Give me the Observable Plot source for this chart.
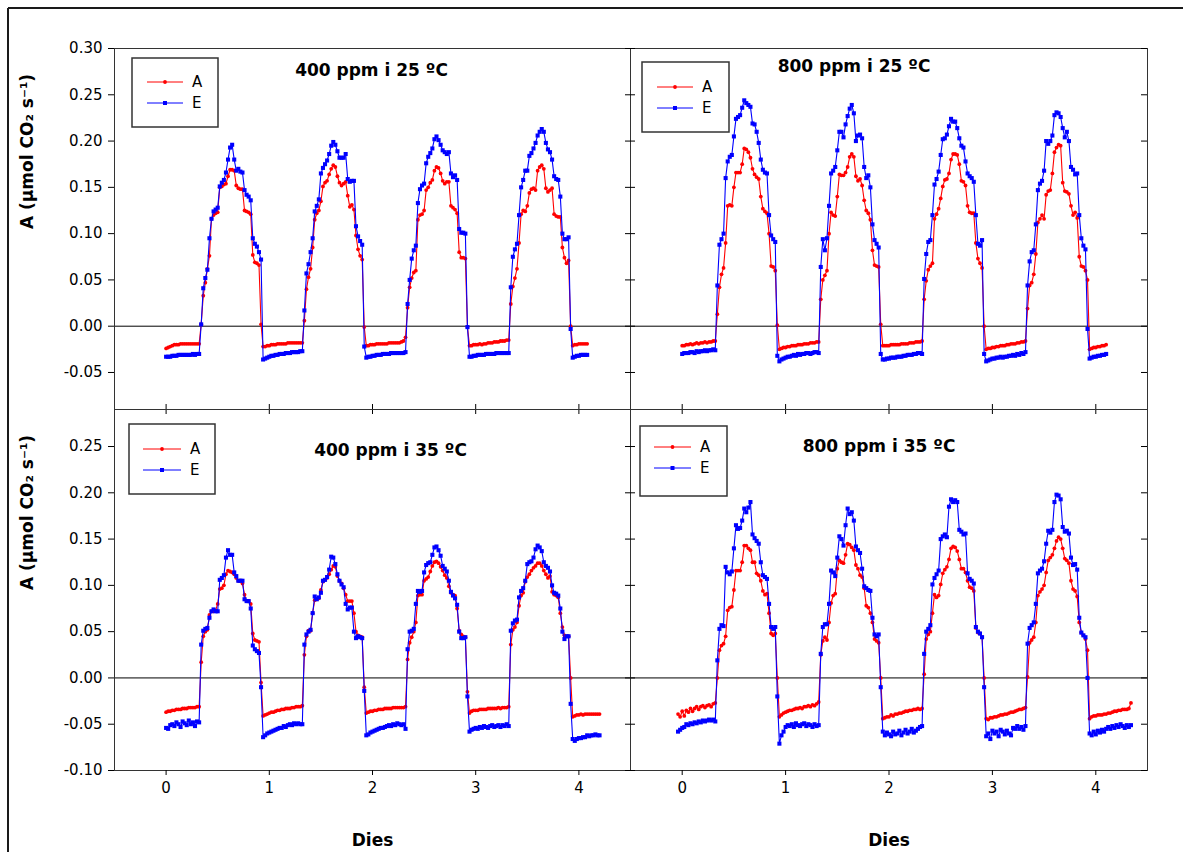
<!DOCTYPE html>
<html><head><meta charset="utf-8">
<script src="https://cdn.jsdelivr.net/npm/d3@7"></script>
<script src="https://cdn.jsdelivr.net/npm/@observablehq/plot@0.6"></script>
<style>
html,body{margin:0;padding:0;background:#fff;}
#chart{position:relative;width:1183px;height:852px;overflow:hidden;font-family:"DejaVu Sans",sans-serif;}
#chart svg{position:absolute;left:0;top:0;overflow:visible;max-width:none;}
</style></head><body><div id="chart"></div>
<script>
// ---- data (days sampled every 0.02 d, values in µmol CO2 s-1) ----
const step = 0.02;
const xTicks = [0, 1, 2, 3, 4];
const yTicksTop = [-0.05, 0, 0.05, 0.10, 0.15, 0.20, 0.25, 0.30];
const yTicksBottom = [-0.10, -0.05, 0, 0.05, 0.10, 0.15, 0.20, 0.25];
const titles = ["400 ppm i 25 ºC", "800 ppm i 25 ºC", "400 ppm i 35 ºC", "800 ppm i 35 ºC"];
const seriesNames = ["A", "E"];
const yTitle = "A (µmol CO₂ s⁻¹)";
const xTitle = "Dies";

// 400 ppm, 25 ºC
const ul_start = 0;
const ul_A = [
-0.024,-0.023,-0.022,-0.021,-0.020,-0.020,-0.020,-0.019,-0.019,-0.019,-0.019,-0.019,-0.019,-0.019,-0.019,-0.019,-0.019,
0.002,0.033,0.047,0.062,0.076,0.116,0.120,0.122,0.123,0.150,0.151,0.153,0.154,0.162,0.169,0.169,0.168,0.152,0.149,0.148,0.148,0.125,0.124,0.123,0.121,0.077,0.069,0.068,0.066,0.002,
-0.022,-0.022,-0.021,-0.021,-0.020,-0.020,-0.020,-0.019,-0.019,-0.019,-0.019,-0.019,-0.018,-0.018,-0.018,-0.018,-0.018,-0.018,-0.018,-0.018,
0.006,0.040,0.053,0.062,0.085,0.115,0.122,0.125,0.135,0.151,0.155,0.157,0.164,0.170,0.174,0.172,0.162,0.155,0.152,0.154,0.156,0.141,0.129,0.131,0.126,0.098,0.083,0.076,0.072,-0.001,
-0.021,-0.021,-0.020,-0.020,-0.020,-0.019,-0.019,-0.019,-0.019,-0.019,-0.019,-0.018,-0.018,-0.018,-0.018,-0.018,-0.018,-0.017,-0.016,-0.012,
0.020,0.042,0.052,0.058,0.060,0.115,0.120,0.121,0.125,0.147,0.150,0.155,0.158,0.168,0.172,0.171,0.165,0.157,0.154,0.156,0.156,0.130,0.128,0.126,0.122,0.080,0.074,0.074,0.073,-0.001,
-0.021,-0.021,-0.020,-0.020,-0.020,-0.019,-0.020,-0.019,-0.019,-0.018,-0.018,-0.018,-0.017,-0.017,-0.017,-0.016,-0.016,-0.016,-0.015,-0.015,
0.024,0.043,0.052,0.062,0.090,0.121,0.125,0.124,0.130,0.144,0.148,0.149,0.147,0.168,0.172,0.174,0.170,0.149,0.145,0.147,0.149,0.121,0.119,0.118,0.118,0.085,0.074,0.068,0.071,0.000,
-0.021,-0.020,-0.020,-0.019,-0.019,-0.019,-0.019,-0.019
];
const ul_E = [
-0.033,-0.033,-0.033,-0.032,-0.032,-0.032,-0.031,-0.031,-0.031,-0.031,-0.031,-0.031,-0.031,-0.030,-0.031,-0.030,-0.030,
0.002,0.041,0.052,0.061,0.095,0.116,0.124,0.126,0.128,0.151,0.155,0.158,0.166,0.180,0.193,0.196,0.180,0.168,0.170,0.167,0.166,0.147,0.142,0.140,0.136,0.095,0.089,0.086,0.080,0.072,
-0.036,-0.035,-0.034,-0.033,-0.032,-0.032,-0.031,-0.031,-0.030,-0.030,-0.030,-0.029,-0.029,-0.029,-0.028,-0.028,-0.028,-0.028,-0.027,-0.027,
0.017,0.057,0.067,0.080,0.095,0.124,0.130,0.137,0.165,0.171,0.175,0.179,0.186,0.195,0.199,0.196,0.189,0.182,0.182,0.182,0.186,0.159,0.156,0.157,0.157,0.108,0.097,0.092,0.088,-0.022,
-0.034,-0.033,-0.033,-0.032,-0.032,-0.031,-0.031,-0.031,-0.030,-0.030,-0.030,-0.030,-0.029,-0.029,-0.029,-0.029,-0.029,-0.029,-0.029,-0.028,
0.024,0.050,0.073,0.082,0.087,0.133,0.148,0.152,0.154,0.176,0.183,0.187,0.192,0.202,0.205,0.201,0.196,0.190,0.188,0.186,0.188,0.165,0.161,0.163,0.158,0.105,0.101,0.101,0.100,-0.001,
-0.033,-0.033,-0.032,-0.032,-0.031,-0.031,-0.031,-0.031,-0.030,-0.030,-0.030,-0.030,-0.030,-0.029,-0.029,-0.029,-0.029,-0.029,-0.029,-0.029,
0.042,0.075,0.083,0.089,0.120,0.150,0.158,0.168,0.168,0.184,0.187,0.192,0.198,0.206,0.210,0.213,0.210,0.198,0.191,0.188,0.180,0.162,0.159,0.158,0.140,0.100,0.094,0.094,0.096,-0.003,
-0.034,-0.033,-0.032,-0.032,-0.031,-0.031,-0.031,-0.031
];

// 800 ppm, 25 ºC
const ur_start = 0;
const ur_A = [
-0.021,-0.021,-0.020,-0.020,-0.019,-0.020,-0.019,-0.018,-0.019,-0.018,-0.018,-0.017,-0.018,-0.017,-0.017,-0.016,-0.016,
0.013,0.042,0.056,0.063,0.090,0.130,0.131,0.130,0.150,0.166,0.166,0.166,0.175,0.192,0.191,0.188,0.182,0.170,0.164,0.161,0.159,0.140,0.127,0.124,0.122,0.100,0.065,0.064,0.060,0.001,
-0.025,-0.024,-0.023,-0.023,-0.022,-0.022,-0.021,-0.021,-0.021,-0.020,-0.020,-0.020,-0.019,-0.019,-0.019,-0.018,-0.018,-0.018,-0.017,-0.017,
0.029,0.050,0.055,0.060,0.100,0.123,0.120,0.119,0.140,0.164,0.163,0.163,0.166,0.172,0.183,0.186,0.183,0.162,0.157,0.159,0.152,0.136,0.125,0.122,0.115,0.082,0.066,0.065,0.064,0.002,
-0.021,-0.021,-0.021,-0.021,-0.020,-0.020,-0.020,-0.020,-0.020,-0.019,-0.019,-0.019,-0.019,-0.018,-0.018,-0.018,-0.017,-0.017,-0.017,-0.016,
0.029,0.049,0.061,0.065,0.068,0.116,0.121,0.127,0.138,0.151,0.158,0.159,0.165,0.180,0.186,0.186,0.185,0.175,0.157,0.156,0.152,0.130,0.123,0.122,0.122,0.090,0.073,0.068,0.063,0.000,
-0.025,-0.024,-0.024,-0.023,-0.023,-0.022,-0.022,-0.021,-0.021,-0.021,-0.020,-0.020,-0.019,-0.019,-0.019,-0.018,-0.018,-0.017,-0.017,-0.016,
0.019,0.044,0.047,0.056,0.078,0.112,0.116,0.120,0.116,0.142,0.146,0.147,0.165,0.188,0.193,0.196,0.195,0.155,0.146,0.145,0.143,0.130,0.120,0.123,0.117,0.075,0.065,0.064,0.060,0.050,
-0.025,-0.024,-0.023,-0.023,-0.022,-0.022,-0.021,-0.021,-0.020
];
const ur_E = [
-0.030,-0.029,-0.029,-0.029,-0.028,-0.028,-0.029,-0.027,-0.028,-0.027,-0.027,-0.026,-0.027,-0.026,-0.026,-0.025,-0.026,
0.044,0.088,0.094,0.100,0.160,0.178,0.183,0.185,0.205,0.224,0.226,0.228,0.236,0.244,0.241,0.239,0.237,0.219,0.218,0.210,0.198,0.180,0.169,0.166,0.165,0.120,0.098,0.094,0.091,-0.032,
-0.038,-0.036,-0.035,-0.034,-0.033,-0.033,-0.032,-0.031,-0.032,-0.030,-0.031,-0.030,-0.030,-0.029,-0.029,-0.030,-0.029,-0.028,-0.028,-0.029,
0.064,0.094,0.082,0.095,0.130,0.165,0.168,0.172,0.190,0.210,0.210,0.204,0.218,0.227,0.235,0.239,0.230,0.200,0.206,0.207,0.203,0.172,0.160,0.163,0.150,0.110,0.093,0.089,0.085,-0.030,
-0.036,-0.036,-0.035,-0.035,-0.034,-0.034,-0.034,-0.033,-0.033,-0.033,-0.032,-0.032,-0.031,-0.031,-0.031,-0.030,-0.030,-0.029,-0.029,-0.030,
0.051,0.078,0.091,0.093,0.120,0.153,0.159,0.167,0.185,0.202,0.203,0.207,0.216,0.224,0.221,0.221,0.214,0.203,0.195,0.193,0.178,0.165,0.162,0.160,0.156,0.120,0.089,0.087,0.093,-0.030,
-0.038,-0.037,-0.036,-0.035,-0.035,-0.034,-0.034,-0.033,-0.034,-0.033,-0.033,-0.032,-0.032,-0.031,-0.032,-0.030,-0.031,-0.029,-0.030,-0.028,
0.044,0.070,0.080,0.082,0.110,0.147,0.154,0.157,0.168,0.200,0.197,0.200,0.206,0.228,0.231,0.230,0.226,0.214,0.204,0.210,0.200,0.172,0.169,0.164,0.165,0.120,0.095,0.087,0.083,-0.003,
-0.035,-0.034,-0.033,-0.033,-0.032,-0.032,-0.031,-0.031,-0.030
];

// 400 ppm, 35 ºC
const ll_start = 0;
const ll_A = [
-0.037,-0.036,-0.036,-0.035,-0.035,-0.034,-0.034,-0.034,-0.033,-0.033,-0.033,-0.032,-0.032,-0.032,-0.032,-0.031,-0.031,
0.017,0.045,0.050,0.052,0.068,0.072,0.072,0.073,0.080,0.096,0.097,0.100,0.112,0.116,0.115,0.114,0.112,0.108,0.105,0.105,0.102,0.090,0.083,0.083,0.080,0.048,0.041,0.040,0.039,-0.005,
-0.041,-0.040,-0.039,-0.038,-0.037,-0.037,-0.036,-0.035,-0.035,-0.034,-0.034,-0.033,-0.033,-0.033,-0.032,-0.032,-0.031,-0.031,-0.031,-0.030,
0.025,0.045,0.051,0.051,0.070,0.084,0.085,0.086,0.095,0.104,0.106,0.108,0.112,0.117,0.121,0.120,0.110,0.105,0.102,0.097,0.090,0.083,0.083,0.083,0.070,0.050,0.046,0.045,0.044,-0.010,
-0.038,-0.037,-0.036,-0.036,-0.035,-0.035,-0.034,-0.034,-0.034,-0.033,-0.033,-0.033,-0.033,-0.032,-0.032,-0.032,-0.032,-0.032,-0.032,-0.031,
0.020,0.038,0.044,0.050,0.060,0.089,0.090,0.090,0.105,0.107,0.109,0.115,0.121,0.125,0.126,0.124,0.120,0.116,0.111,0.108,0.099,0.092,0.090,0.089,0.075,0.051,0.047,0.045,0.044,-0.015,
-0.038,-0.036,-0.035,-0.035,-0.035,-0.034,-0.034,-0.034,-0.034,-0.033,-0.033,-0.033,-0.033,-0.033,-0.032,-0.033,-0.032,-0.032,-0.032,-0.031,
0.036,0.052,0.055,0.060,0.078,0.089,0.092,0.104,0.109,0.112,0.116,0.119,0.121,0.124,0.124,0.121,0.116,0.112,0.108,0.110,0.093,0.090,0.089,0.087,0.070,0.055,0.046,0.045,0.045,0.000,
-0.042,-0.041,-0.040,-0.040,-0.039,-0.040,-0.039,-0.039,-0.039,-0.039,-0.039,-0.039,-0.039,-0.039
];
const ll_E = [
-0.054,-0.055,-0.051,-0.050,-0.052,-0.048,-0.050,-0.053,-0.047,-0.049,-0.051,-0.046,-0.050,-0.048,-0.052,-0.047,-0.048,
0.036,0.051,0.053,0.054,0.065,0.072,0.074,0.072,0.072,0.106,0.108,0.111,0.130,0.138,0.133,0.133,0.114,0.110,0.105,0.105,0.105,0.085,0.083,0.083,0.075,0.035,0.031,0.029,0.027,-0.010,
-0.064,-0.062,-0.060,-0.059,-0.058,-0.057,-0.056,-0.055,-0.054,-0.054,-0.052,-0.053,-0.051,-0.050,-0.051,-0.049,-0.050,-0.049,-0.050,-0.050,
0.036,0.047,0.050,0.052,0.070,0.088,0.085,0.087,0.092,0.105,0.106,0.109,0.117,0.131,0.130,0.123,0.112,0.105,0.101,0.098,0.080,0.074,0.076,0.076,0.050,0.043,0.045,0.044,0.043,-0.014,
-0.062,-0.061,-0.059,-0.058,-0.057,-0.056,-0.055,-0.054,-0.054,-0.053,-0.052,-0.051,-0.052,-0.050,-0.051,-0.049,-0.050,-0.051,-0.050,-0.055,
0.031,0.050,0.051,0.053,0.080,0.094,0.093,0.094,0.114,0.122,0.124,0.125,0.133,0.141,0.142,0.138,0.132,0.121,0.118,0.115,0.105,0.093,0.089,0.086,0.079,0.050,0.043,0.043,0.044,-0.020,
-0.058,-0.056,-0.055,-0.054,-0.055,-0.053,-0.054,-0.052,-0.053,-0.054,-0.052,-0.051,-0.053,-0.052,-0.051,-0.053,-0.051,-0.052,-0.050,-0.052,
0.051,0.059,0.062,0.063,0.087,0.094,0.097,0.105,0.123,0.125,0.126,0.130,0.139,0.143,0.141,0.137,0.125,0.121,0.119,0.115,0.100,0.092,0.091,0.089,0.075,0.050,0.042,0.045,0.045,-0.028,
-0.066,-0.068,-0.066,-0.065,-0.065,-0.064,-0.064,-0.062,-0.063,-0.062,-0.062,-0.061,-0.062,-0.062
];

// 800 ppm, 35 ºC
const lr_start = -0.04;
const lr_A = [
-0.039,-0.042,-0.036,-0.041,-0.035,-0.037,-0.033,-0.036,-0.033,-0.031,-0.034,-0.031,-0.030,-0.032,-0.030,-0.029,-0.031,-0.028,-0.027,
0.000,0.030,0.035,0.037,0.045,0.073,0.076,0.077,0.095,0.116,0.116,0.116,0.125,0.143,0.143,0.140,0.138,0.125,0.125,0.113,0.111,0.105,0.094,0.090,0.091,0.070,0.048,0.046,0.048,0.000,
-0.042,-0.040,-0.038,-0.037,-0.036,-0.035,-0.035,-0.034,-0.033,-0.033,-0.032,-0.033,-0.031,-0.031,-0.030,-0.031,-0.029,-0.030,-0.028,-0.026,
0.025,0.040,0.044,0.041,0.060,0.081,0.089,0.091,0.118,0.127,0.125,0.124,0.133,0.145,0.144,0.141,0.138,0.122,0.118,0.111,0.109,0.097,0.078,0.076,0.070,0.060,0.042,0.040,0.038,0.000,
-0.044,-0.043,-0.042,-0.042,-0.040,-0.041,-0.039,-0.039,-0.038,-0.038,-0.037,-0.036,-0.036,-0.035,-0.035,-0.034,-0.034,-0.033,-0.034,-0.033,
0.004,0.042,0.047,0.050,0.070,0.090,0.087,0.089,0.101,0.113,0.117,0.120,0.128,0.140,0.142,0.141,0.137,0.128,0.118,0.118,0.114,0.105,0.098,0.097,0.094,0.054,0.049,0.048,0.044,0.000,
-0.044,-0.045,-0.043,-0.043,-0.042,-0.042,-0.041,-0.040,-0.040,-0.039,-0.039,-0.038,-0.037,-0.037,-0.036,-0.035,-0.034,-0.034,-0.033,-0.032,
0.001,0.038,0.041,0.044,0.060,0.089,0.093,0.096,0.100,0.114,0.127,0.130,0.133,0.140,0.148,0.152,0.150,0.140,0.129,0.127,0.124,0.105,0.096,0.094,0.088,0.060,0.049,0.046,0.042,0.030,
-0.044,-0.042,-0.041,-0.041,-0.040,-0.040,-0.040,-0.039,-0.039,-0.038,-0.038,-0.037,-0.036,-0.036,-0.035,-0.035,-0.034,-0.034,-0.034,-0.033,-0.027
];
const lr_E = [
-0.058,-0.056,-0.054,-0.053,-0.050,-0.051,-0.049,-0.050,-0.048,-0.049,-0.047,-0.048,-0.046,-0.047,-0.046,-0.045,-0.046,-0.045,-0.047,
0.019,0.053,0.057,0.056,0.120,0.114,0.112,0.115,0.140,0.165,0.161,0.162,0.170,0.183,0.179,0.184,0.190,0.155,0.151,0.148,0.145,0.125,0.111,0.109,0.107,0.080,0.055,0.053,0.055,-0.020,
-0.071,-0.062,-0.058,-0.053,-0.051,-0.052,-0.050,-0.053,-0.049,-0.051,-0.052,-0.050,-0.049,-0.052,-0.050,-0.051,-0.053,-0.050,-0.052,-0.051,
0.026,0.055,0.058,0.058,0.080,0.116,0.114,0.110,0.130,0.153,0.150,0.143,0.165,0.183,0.177,0.179,0.170,0.142,0.138,0.135,0.118,0.099,0.097,0.095,0.094,0.065,0.047,0.045,0.047,-0.010,
-0.058,-0.062,-0.059,-0.061,-0.063,-0.058,-0.061,-0.060,-0.057,-0.062,-0.059,-0.056,-0.060,-0.058,-0.055,-0.059,-0.057,-0.055,-0.053,-0.052,
0.026,0.050,0.053,0.057,0.101,0.108,0.112,0.116,0.150,0.153,0.155,0.152,0.185,0.193,0.190,0.192,0.190,0.160,0.158,0.155,0.156,0.113,0.107,0.105,0.102,0.055,0.050,0.048,0.044,-0.010,
-0.063,-0.060,-0.066,-0.057,-0.060,-0.058,-0.063,-0.056,-0.058,-0.061,-0.057,-0.060,-0.062,-0.054,-0.055,-0.052,-0.055,-0.053,-0.056,-0.052,
0.037,0.054,0.057,0.060,0.080,0.113,0.116,0.118,0.126,0.145,0.159,0.157,0.160,0.190,0.198,0.197,0.193,0.163,0.158,0.159,0.156,0.130,0.122,0.123,0.117,0.065,0.049,0.046,0.044,0.000,
-0.060,-0.062,-0.058,-0.061,-0.057,-0.059,-0.056,-0.058,-0.055,-0.053,-0.055,-0.052,-0.054,-0.051,-0.053,-0.050,-0.052,-0.054,-0.051,-0.053,-0.051
];

// ---- styles / layout ----
const RED = "#ff0000", BLUE = "#0000ff";
const W = 1183, H = 852;
const toRows = (vals, start) => vals.map((v, i) => ({day: +(start + i * step).toFixed(2), value: v}));

const panels = [
  {A: ul_A, E: ul_E, start: ul_start, x0: 114, x1: 630, y0: 48, y1: 409, yDomain: [-0.09, 0.30], yTicks: yTicksTop,
   title: titles[0], tdx: -1, tdy: 22, leftLabels: true, bottomLabels: false,
   legend: {x: 132, y: 58, w: 86, h: 69, lx1: 147, lx2: 183, yA: 82, yE: 103, tx: 192}},
  {A: ur_A, E: ur_E, start: ur_start, x0: 630, x1: 1147, y0: 48, y1: 409, yDomain: [-0.09, 0.30], yTicks: yTicksTop,
   title: titles[1], tdx: -35, tdy: 18, leftLabels: false, bottomLabels: false,
   legend: {x: 642, y: 62, w: 87, h: 70, lx1: 657, lx2: 693, yA: 87, yE: 108, tx: 702}},
  {A: ll_A, E: ll_E, start: ll_start, x0: 114, x1: 630, y0: 409, y1: 770, yDomain: [-0.10, 0.29], yTicks: yTicksBottom,
   title: titles[2], tdx: 18, tdy: 41, leftLabels: true, bottomLabels: true,
   legend: {x: 129, y: 424, w: 86, h: 70, lx1: 143, lx2: 181, yA: 449, yE: 470, tx: 190}},
  {A: lr_A, E: lr_E, start: lr_start, x0: 630, x1: 1147, y0: 409, y1: 770, yDomain: [-0.10, 0.29], yTicks: yTicksBottom,
   title: titles[3], tdx: -10, tdy: 37.5, leftLabels: false, bottomLabels: true,
   legend: {x: 640, y: 426, w: 87, h: 70, lx1: 654, lx2: 691, yA: 447, yE: 468, tx: 700}}
];

function makePanel(p) {
  const pw = p.x1 - p.x0, ph = p.y1 - p.y0;
  const rowsA = toRows(p.A, p.start), rowsE = toRows(p.E, p.start);
  const marks = [
    Plot.ruleY([0], {stroke: "black", strokeWidth: 1}),
    Plot.line(rowsA, {x: "day", y: "value", stroke: RED, strokeWidth: 1.1}),
    Plot.dot(rowsA, {x: "day", y: "value", r: 1.9, fill: RED, stroke: "none"}),
    Plot.line(rowsE, {x: "day", y: "value", stroke: BLUE, strokeWidth: 1.1}),
    Plot.dot(rowsE, {x: "day", y: "value", symbol: "square", r: 2.3, fill: BLUE, stroke: "none"}),
    Plot.frame({stroke: "#333", strokeWidth: 1})
  ];
  if (p.leftLabels) {
    marks.push(Plot.axisY(p.yTicks, {tickSize: 6, tickPadding: 6, tickFormat: d => d.toFixed(2), fontSize: 15, label: null, color: "black"}));
    marks.push(Plot.text([yTitle], {text: d => d, frameAnchor: "left", dx: -87, rotate: -90, fontWeight: "bold", fontSize: 17, fill: "black", lineAnchor: "middle"}));
  } else {
    marks.push(Plot.axisY(p.yTicks, {tickSize: 5, fill: "none", stroke: "black", label: null}));
    marks.push(Plot.tickY(p.yTicks, {y: d => d, insetRight: pw - 5, stroke: "black"}));
    marks.push(Plot.tickY(p.yTicks, {y: d => d, insetLeft: pw - 6, stroke: "black"}));
  }
  if (p.bottomLabels) {
    marks.push(Plot.axisX(xTicks, {tickSize: 5, tickPadding: 7, tickFormat: d => String(d), fontSize: 15, label: null, color: "black"}));
    marks.push(Plot.text([xTitle], {text: d => d, frameAnchor: "bottom", dy: 70, fontWeight: "bold", fontSize: 17, fill: "black", lineAnchor: "middle"}));
  } else {
    marks.push(Plot.axisX(xTicks, {tickSize: 5, fill: "none", stroke: "black", label: null}));
    marks.push(Plot.tickX(xTicks, {x: d => d, insetTop: ph - 5, stroke: "black"}));
  }
  marks.push(Plot.text([p.title], {text: d => d, frameAnchor: "top", dx: p.tdx, dy: p.tdy, fontWeight: "bold", fontSize: 17, fill: "black", lineAnchor: "middle"}));
  return Plot.plot({
    width: W, height: H,
    marginLeft: p.x0, marginRight: W - p.x1, marginTop: p.y0, marginBottom: H - p.y1,
    x: {domain: [-0.5, 4.5]},
    y: {domain: p.yDomain},
    style: {background: "transparent", fontFamily: "'DejaVu Sans', sans-serif", color: "black", overflow: "visible"},
    marks
  });
}

const chart = document.getElementById("chart");
panels.forEach(p => chart.appendChild(makePanel(p)));

// overlay: outer frame and legends
const ov = d3.create("svg").attr("width", W).attr("height", H)
  .style("font-family", "'DejaVu Sans', sans-serif");
ov.append("line").attr("x1", 8).attr("x2", W + 5).attr("y1", 8).attr("y2", 8).attr("stroke", "#1a1a1a").attr("stroke-width", 2);
ov.append("line").attr("x1", 8).attr("x2", 8).attr("y1", 8).attr("y2", H + 5).attr("stroke", "#1a1a1a").attr("stroke-width", 2);
panels.forEach(p => {
  const L = p.legend;
  const g = ov.append("g");
  g.append("rect").attr("x", L.x).attr("y", L.y).attr("width", L.w).attr("height", L.h)
    .attr("fill", "white").attr("stroke", "#333").attr("stroke-width", 1.5);
  const cx = (L.lx1 + L.lx2) / 2;
  [[seriesNames[0], L.yA, RED, "circle"], [seriesNames[1], L.yE, BLUE, "square"]].forEach(([name, y, c, shape]) => {
    g.append("line").attr("x1", L.lx1).attr("x2", L.lx2).attr("y1", y).attr("y2", y).attr("stroke", c).attr("stroke-width", 1);
    if (shape === "circle") g.append("circle").attr("cx", cx).attr("cy", y).attr("r", 1.9).attr("fill", c);
    else g.append("rect").attr("x", cx - 2).attr("y", y - 2).attr("width", 4).attr("height", 4).attr("fill", c);
    g.append("text").attr("x", L.tx).attr("y", y).attr("dy", "0.36em").attr("font-size", 15).attr("fill", "black").text(name);
  });
});
chart.appendChild(ov.node());
</script></body></html>
